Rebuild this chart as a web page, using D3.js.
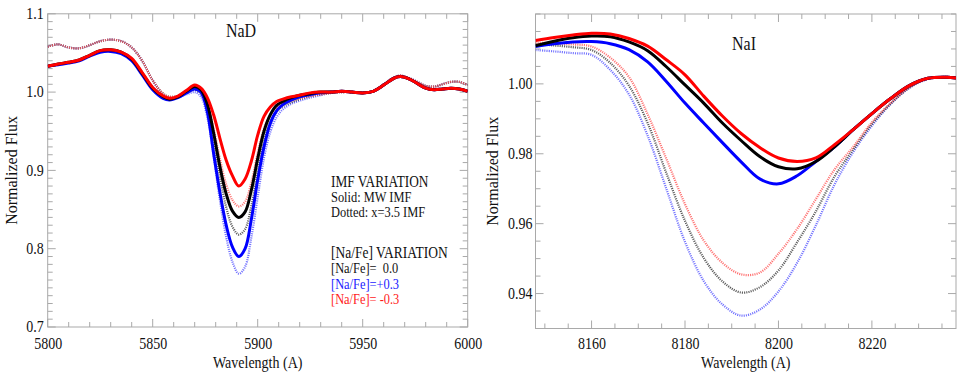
<!DOCTYPE html>
<html><head><meta charset="utf-8">
<script src="https://cdn.jsdelivr.net/npm/d3@7"></script>
<style>
html,body{margin:0;padding:0;background:#fff;}
svg{display:block;}
text{font-family:"Liberation Serif","DejaVu Serif","Times New Roman",Times,serif;fill:#111;}
</style></head><body>
<svg id="c" width="962" height="382"></svg>
<script>
// ---------------- DATA ----------------
// Left panel: NaD
const nadWave = [5800,5805,5810,5815,5820,5825,5830,5835,5840,5845,5850,5855,5858,5862,5866,5870,5873,5876,5879,5882,5885,5888,5891,5894,5897,5900,5903,5906,5909,5912,5916,5920,5925,5930,5935,5940,5945,5950,5955,5960,5965,5968,5972,5976,5980,5984,5988,5992,5996,6000];
const nadRedSolid = [1.033,1.036,1.038,1.041,1.047,1.053,1.054,1.051,1.043,1.025,1.006,0.995,0.992,0.995,1.002,1.009,1.005,0.993,0.971,0.941,0.913,0.893,0.880,0.889,0.912,0.945,0.969,0.981,0.988,0.991,0.994,0.996,0.999,1.000,1.000,1.001,1.000,0.999,1.001,1.009,1.018,1.020,1.017,1.011,1.005,1.003,1.004,1.005,1.004,1.001];
const nadBlackSolid = [1.033,1.036,1.038,1.041,1.047,1.053,1.054,1.051,1.042,1.024,1.005,0.994,0.991,0.994,1.001,1.007,1.003,0.985,0.948,0.905,0.870,0.848,0.840,0.847,0.875,0.915,0.950,0.971,0.983,0.988,0.993,0.996,0.998,1.000,1.000,1.001,1.000,0.999,1.001,1.009,1.018,1.020,1.017,1.011,1.005,1.003,1.004,1.005,1.004,1.001];
const nadBlueSolid = [1.033,1.035,1.037,1.040,1.046,1.051,1.052,1.049,1.040,1.022,1.003,0.992,0.990,0.993,0.999,1.004,1.000,0.975,0.922,0.872,0.830,0.802,0.790,0.800,0.838,0.888,0.930,0.960,0.976,0.984,0.990,0.994,0.997,0.999,1.000,1.001,1.000,0.999,1.001,1.009,1.018,1.020,1.017,1.011,1.005,1.003,1.004,1.005,1.004,1.001];
const nadRedDotted = [1.058,1.061,1.057,1.056,1.060,1.065,1.067,1.065,1.057,1.040,1.015,0.998,0.994,0.995,1.000,1.005,1.001,0.985,0.953,0.915,0.882,0.862,0.854,0.860,0.885,0.922,0.953,0.971,0.980,0.985,0.989,0.992,0.995,0.997,0.999,1.000,1.000,0.999,1.001,1.010,1.019,1.021,1.018,1.013,1.008,1.007,1.010,1.013,1.013,1.009];
const nadBlackDotted = [1.058,1.061,1.057,1.056,1.060,1.065,1.067,1.065,1.057,1.040,1.015,0.998,0.994,0.995,0.999,1.003,0.998,0.978,0.938,0.892,0.853,0.828,0.818,0.825,0.855,0.898,0.937,0.962,0.975,0.982,0.987,0.991,0.995,0.997,0.999,1.000,1.000,0.999,1.001,1.010,1.019,1.021,1.018,1.013,1.008,1.007,1.010,1.013,1.013,1.009];
const nadBlueDotted = [1.058,1.061,1.057,1.056,1.060,1.065,1.067,1.065,1.057,1.040,1.015,0.997,0.993,0.993,0.997,1.000,0.994,0.968,0.918,0.862,0.815,0.783,0.768,0.777,0.815,0.866,0.916,0.949,0.968,0.978,0.985,0.989,0.993,0.996,0.999,1.000,1.000,0.999,1.001,1.010,1.019,1.021,1.018,1.013,1.008,1.007,1.010,1.013,1.013,1.009];
const nadXTicks = [5800,5850,5900,5950,6000];
const nadYTicks = [0.7,0.8,0.9,1.0,1.1];

// Right panel: NaI
const naiWave = [8148,8152,8156,8160,8164,8168,8172,8176,8180,8184,8188,8192,8196,8200,8204,8208,8212,8216,8220,8224,8228,8232,8236,8238];
const naiRedSolid = [1.0124,1.0133,1.0140,1.0145,1.0143,1.0130,1.0108,1.0069,1.0026,0.9965,0.9908,0.9858,0.9818,0.9788,0.9778,0.9788,0.9826,0.9869,0.9915,0.9958,0.9995,1.0016,1.0019,1.0017];
const naiBlackSolid = [1.0109,1.0122,1.0132,1.0137,1.0135,1.0120,1.0095,1.0049,0.9997,0.9945,0.9888,0.9838,0.9792,0.9763,0.9757,0.9778,0.9820,0.9869,0.9915,0.9958,0.9995,1.0016,1.0019,1.0017];
const naiBlueSolid = [1.0107,1.0115,1.0120,1.0121,1.0115,1.0098,1.0063,1.0007,0.9945,0.9888,0.9832,0.9777,0.9728,0.9714,0.9737,0.9778,0.9820,0.9869,0.9915,0.9958,0.9995,1.0016,1.0019,1.0017];
const naiRedDotted = [1.0118,1.0116,1.0113,1.0107,1.0075,1.0020,0.9913,0.9786,0.9656,0.9552,0.9488,0.9455,0.9460,0.9514,0.9585,0.9670,0.9755,0.9820,0.9890,0.9945,0.9990,1.0015,1.0020,1.0018];
const naiBlackDotted = [1.0114,1.0110,1.0105,1.0097,1.0060,0.9995,0.9888,0.9745,0.9608,0.9502,0.9435,0.9403,0.9418,0.9466,0.9547,0.9635,0.9735,0.9812,0.9885,0.9943,0.9989,1.0015,1.0020,1.0018];
const naiBlueDotted = [1.0097,1.0093,1.0088,1.0083,1.0040,0.9970,0.9852,0.9700,0.9548,0.9436,0.9369,0.9337,0.9354,0.9406,0.9488,0.9595,0.9712,0.9805,0.9880,0.9942,0.9988,1.0014,1.0020,1.0018];
const naiXTicks = [8160,8180,8200,8220];
const naiYTicks = [0.94,0.96,0.98,1.00];

const titles = ["NaD","NaI"];
const xLabel = "Wavelength (A)";
const yLabel = "Normalized Flux";
const legendLines = ["IMF VARIATION","Solid: MW IMF","Dotted: x=3.5 IMF","[Na/Fe] VARIATION","[Na/Fe]=  0.0","[Na/Fe]=+0.3","[Na/Fe]= -0.3"];

// ---------------- DRAW ----------------
const svg = d3.select("#c");
const SY = 1.22;   // vertical stretch of the source text
const SYT = 1.15;  // stretch for tick labels
const FONT = '"Liberation Serif","DejaVu Serif","Times New Roman",Times,serif';

function stretchedText(g, x, y, str, opts) {
  const t = g.append("text")
    .attr("transform", `translate(${x},${y}) scale(1,${SY})`)
    .attr("text-anchor", opts.anchor || "start")
    .style("font-size", (opts.size || 14) + "px")
    .style("font-family", FONT)
    .text(str);
  if (opts.fill) t.style("fill", opts.fill);
  return t;
}

function panel(cfg) {
  const x = d3.scaleLinear().domain(cfg.xDomain).range(cfg.xRange);
  const y = d3.scaleLinear().domain(cfg.yDomain).range(cfg.yRange);
  const g = svg.append("g");
  const [x0, x1] = cfg.xRange, [y0, y1] = cfg.yRange; // y0 bottom, y1 top
  const tickCol = "#a9a9a9";

  // frame
  g.append("rect").attr("x", x0).attr("y", y1).attr("width", x1 - x0).attr("height", y0 - y1)
    .attr("fill", "none").attr("stroke", tickCol).attr("stroke-width", 1);

  // ticks (inward, all four sides)
  const xStart = Math.ceil(cfg.xDomain[0] / cfg.xMinorStep) * cfg.xMinorStep;
  const xm = d3.range(xStart, cfg.xDomain[1] + 1e-9, cfg.xMinorStep);
  const yStart = Math.ceil(cfg.yDomain[0] / cfg.yMinorStep - 1e-6) * cfg.yMinorStep;
  const ym = d3.range(yStart, cfg.yDomain[1] + 1e-9, cfg.yMinorStep);
  const isMajor = (v, arr) => arr.some(t => Math.abs(t - v) < 1e-6);
  const tg = g.append("g").attr("stroke", tickCol).attr("stroke-width", 1);
  xm.forEach(v => {
    const L = isMajor(v, cfg.xTicks) ? 8 : 5;
    const px = x(v);
    tg.append("line").attr("x1", px).attr("x2", px).attr("y1", y0).attr("y2", y0 - L);
    tg.append("line").attr("x1", px).attr("x2", px).attr("y1", y1).attr("y2", y1 + L);
  });
  ym.forEach(v => {
    const L = isMajor(v, cfg.yTicks) ? 8 : 5;
    const py = y(v);
    tg.append("line").attr("y1", py).attr("y2", py).attr("x1", x0).attr("x2", x0 + L);
    tg.append("line").attr("y1", py).attr("y2", py).attr("x1", x1).attr("x2", x1 - L);
  });

  // tick labels via d3 axes (axis lines hidden, labels styled)
  const ax = g.append("g").attr("transform", `translate(0,${y0})`)
    .call(d3.axisBottom(x).tickValues(cfg.xTicks).tickFormat(d3.format("d")).tickSize(0).tickPadding(0));
  ax.select(".domain").remove();
  ax.selectAll("text").each(function() {
    d3.select(this).attr("y", null).attr("dy", null)
      .attr("transform", `translate(0,${cfg.xLabelBase - y0}) scale(1,${SYT})`)
      .style("font-size", "14px").style("font-family", FONT).attr("fill", "#111");
  });
  const ay = g.append("g").attr("transform", `translate(${x0},0)`)
    .call(d3.axisLeft(y).tickValues(cfg.yTicks).tickFormat(d3.format(cfg.yFmt)).tickSize(0).tickPadding(0));
  ay.select(".domain").remove();
  ay.selectAll("text").each(function() {
    d3.select(this).attr("x", null).attr("dy", null)
      .attr("transform", `translate(${-cfg.yLabelGap},4.8) scale(1,${SYT})`)
      .style("font-size", "14px").style("font-family", FONT).attr("fill", "#111");
  });

  // curves
  const line = d3.line().x(d => x(d[0])).y(d => y(d[1])).curve(d3.curveCatmullRom.alpha(0.5));
  const clipId = "clip" + cfg.id;
  svg.append("clipPath").attr("id", clipId).append("rect")
    .attr("x", x0).attr("y", y1).attr("width", x1 - x0).attr("height", y0 - y1);
  const cg = g.append("g").attr("clip-path", `url(#${clipId})`);
  cfg.series.forEach(s => {
    const pts = cfg.wave.map((w, i) => [w, s.values[i]]);
    const p = cg.append("path").attr("d", line(pts)).attr("fill", "none")
      .attr("stroke", s.color).attr("stroke-width", s.width).attr("stroke-linejoin", "round");
    if (s.dash) p.attr("stroke-dasharray", s.dash);
    if (s.opacity) p.attr("stroke-opacity", s.opacity);
  });

  // titles
  stretchedText(g, cfg.titlePos[0], cfg.titlePos[1], cfg.title, {anchor: "middle", size: 16});
  stretchedText(g, (x0 + x1) / 2, cfg.xTitleBase, xLabel, {anchor: "middle", size: 14});
  g.append("text")
    .attr("transform", `translate(${cfg.yTitleX},${(y0 + y1) / 2}) rotate(-90)`)
    .attr("text-anchor", "middle").style("font-size", "16px").style("font-family", FONT).text(yLabel);
  return {x, y, g};
}

const dotW = 2.2, dotDash = "1.1,1.1";
const left = panel({
  id: "L", title: titles[0], titlePos: [241, 37],
  wave: nadWave, xDomain: [5800, 6000], yDomain: [0.7, 1.1],
  xRange: [47.7, 467.7], yRange: [327, 13.8],
  xTicks: nadXTicks, yTicks: nadYTicks, xMinorStep: 10, yMinorStep: 0.01, yFmt: ".1f",
  xLabelBase: 349, yLabelGap: 4, xTitleBase: 368, yTitleX: 17,
  series: [
    {values: nadBlueDotted, color: "#5a5aff", width: dotW, dash: dotDash, opacity: 0.85},
    {values: nadBlackDotted, color: "#333", width: dotW, dash: dotDash, opacity: 0.8},
    {values: nadRedDotted, color: "#ff5a5a", width: dotW, dash: dotDash, opacity: 0.85},
    {values: nadBlueSolid, color: "#0000ff", width: 3},
    {values: nadBlackSolid, color: "#000", width: 3},
    {values: nadRedSolid, color: "#ff0000", width: 3}
  ]
});
const right = panel({
  id: "R", title: titles[1], titlePos: [744, 50],
  wave: naiWave, xDomain: [8148, 8238], yDomain: [0.93, 1.02],
  xRange: [535.5, 956], yRange: [328.5, 14],
  xTicks: naiXTicks, yTicks: naiYTicks, xMinorStep: 5, yMinorStep: 0.005, yFmt: ".2f",
  xLabelBase: 349, yLabelGap: 3, xTitleBase: 368, yTitleX: 498,
  series: [
    {values: naiBlueDotted, color: "#5a5aff", width: dotW, dash: dotDash, opacity: 0.85},
    {values: naiBlackDotted, color: "#333", width: dotW, dash: dotDash, opacity: 0.8},
    {values: naiRedDotted, color: "#ff5a5a", width: dotW, dash: dotDash, opacity: 0.85},
    {values: naiBlueSolid, color: "#0000ff", width: 3},
    {values: naiBlackSolid, color: "#000", width: 3},
    {values: naiRedSolid, color: "#ff0000", width: 3}
  ]
});

// legend text in left panel
const lg = left.g.append("g");
const legendY = [187, 202, 217, 258, 273, 289, 304];
const legendSize = [13.3, 12.4, 12.4, 13.5, 12.4, 12.4, 12.4];
const legendFill = ["#111", "#111", "#111", "#111", "#111", "#1a1aff", "#ff1a1a"];
legendLines.forEach((s, i) => {
  stretchedText(lg, 331, legendY[i], s, {size: legendSize[i], fill: legendFill[i]}).style("white-space", "pre");
});
</script>
</body></html>
